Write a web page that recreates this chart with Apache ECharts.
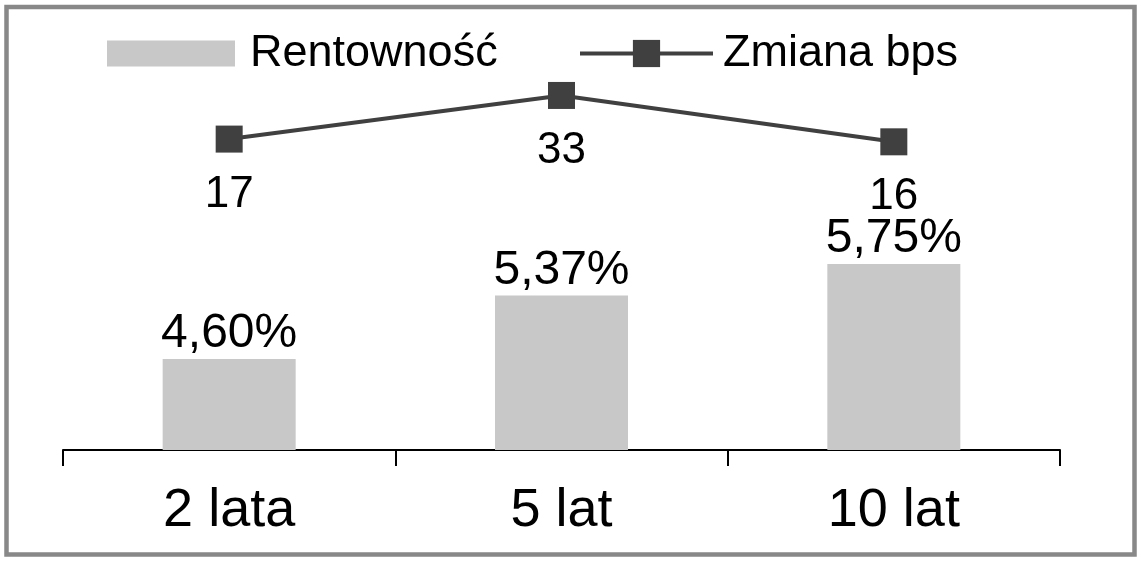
<!DOCTYPE html>
<html>
<head>
<meta charset="utf-8">
<script src="https://cdn.jsdelivr.net/npm/echarts@6/dist/echarts.min.js"></script>
<style>
  html, body { margin: 0; padding: 0; background: #fff; }
  #chart { width: 1141px; height: 562px; }
</style>
</head>
<body>
<div id="chart"></div>
<script>
// dane wykresu
var categories = ['2 lata', '5 lat', '10 lat'];
var rentownosc = [4.60, 5.37, 5.75];
var zmianaBps = [17, 33, 16];

var FONT = '"Liberation Sans", Arial, sans-serif';
var LINE_COLOR = '#404040';

var myChart = echarts.init(document.getElementById('chart'));

function fmtPct(v) {
    return v.toFixed(2).replace('.', ',') + '%';
}

myChart.setOption({
    animation: false,
    textStyle: { fontFamily: FONT, color: '#000' },
    graphic: [{
        type: 'rect',
        shape: { x: 6.5, y: 7, width: 1128, height: 547.5 },
        style: { fill: null, stroke: '#888', lineWidth: 4.5 },
        silent: true
    }],
    legend: [{
        left: 107,
        top: 31,
        padding: 0,
        itemWidth: 128,
        itemHeight: 26,
        icon: 'rect',
        textStyle: { fontFamily: FONT, fontSize: 45, color: '#000', padding: [0, 0, 0, 10] },
        data: ['Rentowność']
    }, {
        left: 578,
        top: 31,
        padding: 0,
        itemWidth: 133,
        itemHeight: 34,
        textStyle: { fontFamily: FONT, fontSize: 45, color: '#000', padding: [0, 0, 0, 5] },
        lineStyle: { width: 4, color: LINE_COLOR },
        data: ['Zmiana bps']
    }],
    grid: { left: 63, right: 81, top: 60, bottom: 112 },
    xAxis: {
        type: 'category',
        data: categories,
        axisLine: { onZero: false, lineStyle: { color: '#000', width: 2 } },
        axisTick: { show: true, length: 16, lineStyle: { color: '#000', width: 2 } },
        axisLabel: { fontFamily: FONT, fontSize: 54, color: '#000', margin: 34 }
    },
    yAxis: [{
        type: 'value',
        min: 3.5,
        max: 8.22,
        show: false,
        splitLine: { show: false }
    }, {
        type: 'value',
        min: -97,
        max: 46,
        show: false,
        splitLine: { show: false }
    }],
    series: [{
        name: 'Rentowność',
        type: 'bar',
        data: rentownosc,
        barWidth: 133,
        itemStyle: { color: '#c8c8c8' },
        label: {
            show: true,
            position: 'top',
            distance: 1,
            fontFamily: FONT,
            fontSize: 48,
            color: '#000',
            formatter: function (p) { return fmtPct(p.value); }
        }
    }, {
        name: 'Zmiana bps',
        type: 'line',
        yAxisIndex: 1,
        data: zmianaBps,
        symbol: 'rect',
        symbolSize: 27,
        itemStyle: { color: LINE_COLOR },
        lineStyle: { color: LINE_COLOR, width: 4 },
        label: {
            show: true,
            position: 'bottom',
            distance: 20,
            fontFamily: FONT,
            fontSize: 44,
            color: '#000'
        }
    }]
});
</script>
</body>
</html>
